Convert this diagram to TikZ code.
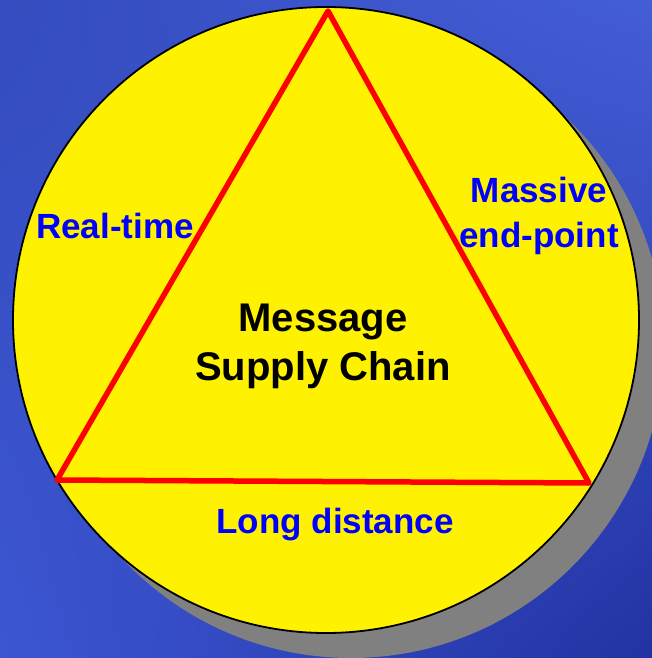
\documentclass[tikz,border=0pt]{standalone}
\usepackage{fontspec}
\setmainfont{Liberation Sans}
\usetikzlibrary{shadings}
\definecolor{bgul}{RGB}{52,76,190}
\definecolor{bgur}{RGB}{68,94,215}
\definecolor{bgll}{RGB}{60,86,210}
\definecolor{bglr}{RGB}{34,50,162}
\begin{document}
\begin{tikzpicture}[x=1pt,y=-1pt,
  lbl/.style={font=\fontsize{35}{45}\selectfont\bfseries, text=blue, inner sep=0pt, align=center},
  ctr/.style={font=\fontsize{40}{49}\selectfont\bfseries, text=black, inner sep=0pt, align=center},
  edge/.style={draw=red, line width=5.5pt, line join=round, line cap=round}]
\useasboundingbox (0,0) rectangle (652,658);
\shade[upper left=bgul, upper right=bgur, lower left=bgll, lower right=bglr]
  (0,0) rectangle (652,658);
% shadow
\fill[gray] (351,345) circle[radius=313];
% disc
\node[circle, draw=black, line width=1.8pt, fill=yellow, minimum size=626pt, inner sep=0pt] (disc) at (326,320) {};
% triangle corners
\coordinate (apex) at (328,11);
\coordinate (bl) at (57,480);
\coordinate (br) at (589,483);
\draw[edge] (apex) -- (bl) -- (br) -- cycle;
% labels
\node[lbl, anchor=base] (rt) at (115,238) {Real-time};
\node[lbl, anchor=base] (mep) at (539,247) {Massive\\end-point};
\node[lbl, anchor=base] (ld) at (335,533) {Long distance};
\node[ctr, anchor=base] (msc) at (323,380) {Message\\Supply Chain};
\end{tikzpicture}
\end{document}
